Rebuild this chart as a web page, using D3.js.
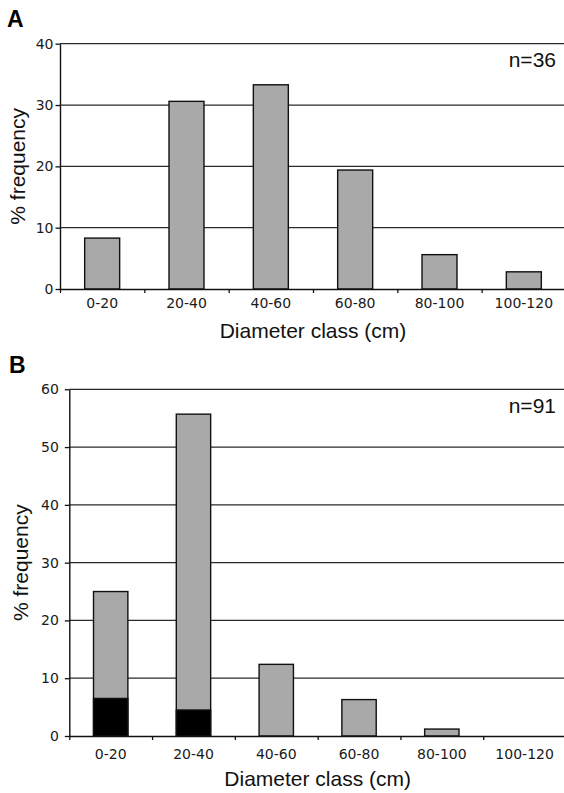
<!DOCTYPE html>
<html>
<head>
<meta charset="utf-8">
<script src="https://cdn.jsdelivr.net/npm/d3@7"></script>
<style>
  body { margin: 0; background: #fff; }
  svg { display: block; }
</style>
</head>
<body>
<div id="tu"></div>
<script>
// diameter classes (same for both panels)
var classes = ["0-20", "20-40", "40-60", "60-80", "80-100", "100-120"];

// panel A, n=36
var freqA = [8.3, 30.6, 33.3, 19.4, 5.6, 2.8];
var ticksA = [0, 10, 20, 30, 40];

// panel B, n=91 : total bar height and the black part at its base
var freqB = [25.0, 55.7, 12.4, 6.3, 1.2, 0];
var blackB = [6.5, 4.5, 0, 0, 0, 0];
var ticksB = [0, 10, 20, 30, 40, 50, 60];

var fullWidth = 564, fullHeight = 793;

var svg = d3.select("#tu")
  .append("svg")
  .attr("width", fullWidth)
  .attr("height", fullHeight);

var tickFont = "'DejaVu Sans', Verdana, sans-serif";
var titleFont = "'Liberation Sans', Arial, sans-serif";
var grey = "#a9a9a9";

function panel(o) {
  var g = svg.append("g");

  var x = d3.scaleBand().domain(classes).range([o.left, o.right])
    .paddingInner(0.585).paddingOuter(0.2925);
  var xEdge = d3.scaleLinear().domain([0, classes.length]).range([o.left, o.right]);
  var y = d3.scaleLinear().domain([0, d3.max(o.ticks)]).range([o.bottom, o.top]);

  // horizontal grid
  g.selectAll(".grid").data(o.ticks.filter(function(d) { return d > 0; }))
    .enter().append("line")
    .attr("x1", o.left).attr("x2", o.right)
    .attr("y1", function(d) { return y(d); })
    .attr("y2", function(d) { return y(d); })
    .attr("stroke", "#2a2a2a").attr("stroke-width", 1.3);

  // bars (grey part)
  g.selectAll(".bar").data(o.values)
    .enter().append("rect")
    .filter(function(d) { return d > 0; })
    .attr("x", function(d, i) { return x(classes[i]); })
    .attr("width", x.bandwidth())
    .attr("y", function(d) { return y(d); })
    .attr("height", function(d) { return o.bottom - y(d); })
    .attr("fill", grey).attr("stroke", "#111").attr("stroke-width", 1.4);

  // black part at base
  if (o.black) {
    g.selectAll(".blk").data(o.black)
      .enter().append("rect")
      .filter(function(d) { return d > 0; })
      .attr("x", function(d, i) { return x(classes[i]); })
      .attr("width", x.bandwidth())
      .attr("y", function(d) { return y(d); })
      .attr("height", function(d) { return o.bottom - y(d); })
      .attr("fill", "#000").attr("stroke", "#111").attr("stroke-width", 1.4);
  }

  // y axis
  var yAxis = d3.axisLeft(y).tickValues(o.ticks).tickSize(4.5).tickSizeOuter(0)
    .tickPadding(o.yPad);
  var ya = g.append("g").attr("transform", "translate(" + o.left + ",0)").call(yAxis);
  ya.select(".domain").attr("stroke", "#111").attr("stroke-width", 1.4);
  ya.selectAll(".tick line").attr("stroke", "#111").attr("stroke-width", 1.3);
  ya.selectAll("text").attr("font-family", tickFont).attr("font-size", 14).attr("fill", "#1a1a1a");

  // x axis: tick marks on class boundaries
  var xa = g.append("g").attr("transform", "translate(0," + o.bottom + ")")
    .call(d3.axisBottom(xEdge).tickValues(d3.range(0, classes.length + 1))
      .tickSize(4).tickSizeOuter(0).tickFormat(""));
  xa.select(".domain").attr("stroke", "#111").attr("stroke-width", 1.4);
  xa.selectAll(".tick line").attr("stroke", "#111").attr("stroke-width", 1.3);

  // x labels
  var xl = g.append("g").attr("transform", "translate(0," + o.bottom + ")")
    .call(d3.axisBottom(x).tickSize(0).tickPadding(o.xPad));
  xl.select(".domain").remove();
  xl.selectAll("text").attr("font-family", tickFont).attr("font-size", 14).attr("fill", "#1a1a1a");

  // titles
  g.append("text")
    .attr("x", (o.left + o.right) / 2).attr("y", o.xTitleY)
    .attr("text-anchor", "middle")
    .attr("font-family", titleFont).attr("font-size", 21).attr("fill", "#111")
    .text("Diameter class (cm)");

  g.append("text")
    .attr("transform", "translate(" + o.yTitleX + "," + ((o.top + o.bottom) / 2) + ") rotate(-90)")
    .attr("text-anchor", "middle")
    .attr("font-family", titleFont).attr("font-size", 21).attr("fill", "#111")
    .text("% frequency");

  g.append("text")
    .attr("x", 556).attr("y", o.nY)
    .attr("text-anchor", "end")
    .attr("font-family", titleFont).attr("font-size", 21).attr("fill", "#111")
    .text(o.n);

  g.append("text")
    .attr("x", o.letterX).attr("y", o.letterY)
    .attr("font-family", titleFont).attr("font-size", 23).attr("font-weight", "bold")
    .attr("fill", "#000")
    .text(o.letter);
}

panel({
  letter: "A", letterX: 7, letterY: 27,
  left: 60, right: 566, top: 43.7, bottom: 289,
  values: freqA, ticks: ticksA,
  yPad: 2, xPad: 9, xTitleY: 338, yTitleX: 25,
  n: "n=36", nY: 67
});

panel({
  letter: "B", letterX: 9, letterY: 373,
  left: 69.3, right: 566, top: 389.3, bottom: 736,
  values: freqB, black: blackB, ticks: ticksB,
  yPad: 6, xPad: 13, xTitleY: 786, yTitleX: 28,
  n: "n=91", nY: 413
});
</script>
</body>
</html>
